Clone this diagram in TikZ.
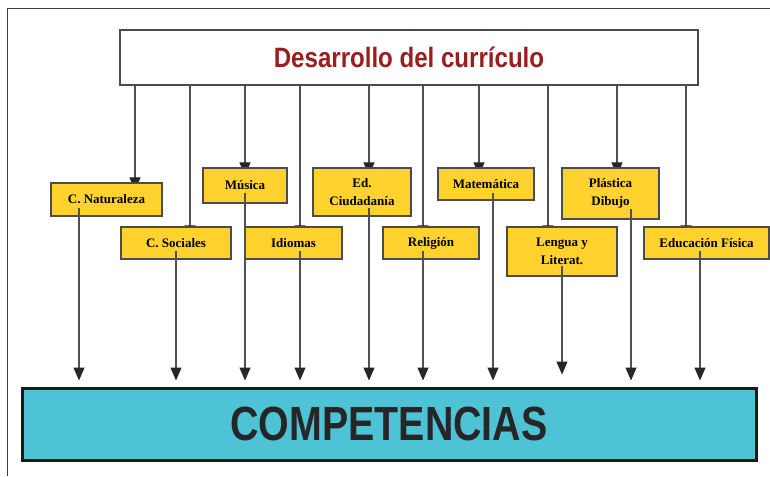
\documentclass[tikz,border=0pt]{standalone}
\usepackage{fontspec}
\setmainfont{Liberation Serif}
\newfontfamily\titlesans[FakeStretch=0.86]{Liberation Sans}
\newfontfamily\compsans[FakeStretch=0.82]{Liberation Sans}
\usetikzlibrary{arrows.meta,positioning,backgrounds}

\definecolor{boxyellow}{HTML}{FFD22E}
\definecolor{compcyan}{HTML}{4FC3D6}
\definecolor{titlered}{HTML}{991E1E}
\definecolor{linegray}{HTML}{505050}

\begin{document}
\begin{tikzpicture}[x=1pt,y=-1pt,
    subject/.style={draw=gray!60!black, line width=1.3pt, fill=boxyellow, align=center,
        inner sep=0pt, font=\bfseries\fontsize{13}{18.5}\selectfont},
    feed/.style={draw=linegray, line width=1.2pt, -{Triangle[width=11pt,length=13pt,color=black!85]}}]
    \useasboundingbox (0,0) rectangle (770,476);

    % Frame
    \draw[black!75, line width=0.8pt] (7,476) -- (7,8) -- (770,8);

    % Curriculum box
    \node[draw=gray!60!black, line width=1.3pt, fill=white, minimum width=578pt, minimum height=55pt,
        font=\titlesans\bfseries\fontsize{28}{30}\selectfont, text=titlered] (top) at (409,57.5) {Desarrollo del currículo};

    % Subjects
    \node[subject, minimum width=111pt, minimum height=33pt] (nat) at (106.5,199.5) {C. Naturaleza};
    \node[subject, minimum width=110pt, minimum height=32pt] (soc) at (176,243) {C. Sociales};
    \node[subject, minimum width=84pt, minimum height=35pt] (mus) at (245,185.5) {Música};
    \node[subject, minimum width=97pt, minimum height=32pt] (idi) at (293.5,243) {Idiomas};
    \node[subject, minimum width=98pt, minimum height=48pt] (ciu) at (362,192) {Ed.\\Ciudadanía};
    \node[subject, minimum width=96pt, minimum height=32pt] (rel) at (431,243) {Religión};
    \node[subject, minimum width=96pt, minimum height=32pt] (mat) at (486,184) {Matemática};
    \node[subject, minimum width=110pt, minimum height=49pt] (len) at (562,251.5) {Lengua y\\Literat.};
    \node[subject, minimum width=97pt, minimum height=51pt] (pla) at (610.5,193.5) {Plástica\\Dibujo};
    \node[subject, minimum width=125pt, minimum height=32pt] (edu) at (706.5,243) {Educación Física};

    % Competences box
    \node[draw=black!90, line width=3pt, fill=compcyan, minimum width=734pt, minimum height=72pt,
        font=\compsans\bfseries\fontsize{48}{50}\selectfont, text=black!85] (comp) at (389,424) {COMPETENCIAS};

    % Arrows into the subjects (behind the boxes)
    \begin{scope}[on background layer]
        \foreach \sub/\xin/\gap in {nat/135/8, soc/190/12, mus/245/8, idi/300/12, ciu/369/8,
                rel/423/12, mat/479/8, len/548/12, pla/617/8, edu/686/12}
            \draw[feed, shorten >=-\gap pt] (top.south -| \xin,0) -- (\sub.north -| \xin,0);
    \end{scope}

    % Arrows into the competences
    \foreach \sub/\xout/\back/\stop in {nat/79/9/6, soc/176/9/6, mus/245/11/6, idi/300/9/6, ciu/369/9/6,
            rel/423/9/6, mat/493/8/6, len/562/11/12, pla/631/11/6, edu/700/9/6}
        \draw[feed, shorten <=-\back pt, shorten >=\stop pt] (\sub.south -| \xout,0) -- (comp.north -| \xout,0);
\end{tikzpicture}
\end{document}
